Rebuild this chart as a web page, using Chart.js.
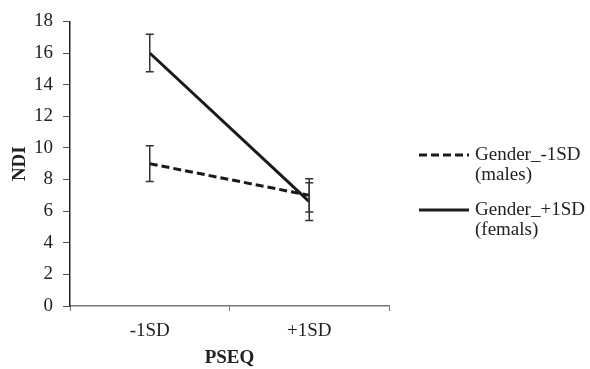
<!DOCTYPE html>
<html>
<head>
<meta charset="utf-8">
<script src="https://cdn.jsdelivr.net/npm/chart.js@4"></script>
<style>
  html, body { margin: 0; padding: 0; background: #fff; }
  #wrap { width: 590px; height: 369px; position: relative; }
</style>
</head>
<body>
<div id="wrap"><canvas id="ndiChart"></canvas></div>
<script>
// chart values
const categories = ['-1SD', '+1SD'];
const malesNDI = [9.0, 7.0];
const femalesNDI = [16.0, 6.6];
const malesErr = [1.13, 1.05];
const femalesErr = [1.18, 1.2];
const seriesLabels = [['Gender_-1SD', '(males)'], ['Gender_+1SD', '(femals)']];

const serif = '"Liberation Serif", "Times New Roman", serif';

// draw error bars for every point of every dataset
const errorBars = {
    id: 'errorBars',
    afterDatasetsDraw(chart) {
        const ctx = chart.ctx;
        const yScale = chart.scales.y;
        chart.data.datasets.forEach((ds, di) => {
            const meta = chart.getDatasetMeta(di);
            meta.data.forEach((pt, i) => {
                const v = ds.data[i];
                const e = ds.errors[i];
                const yTop = yScale.getPixelForValue(v + e);
                const yBot = yScale.getPixelForValue(v - e);
                ctx.save();
                ctx.strokeStyle = '#333';
                ctx.lineWidth = 1.5;
                ctx.beginPath();
                ctx.moveTo(pt.x, yTop);
                ctx.lineTo(pt.x, yBot);
                ctx.moveTo(pt.x - 4, yTop);
                ctx.lineTo(pt.x + 4, yTop);
                ctx.moveTo(pt.x - 4, yBot);
                ctx.lineTo(pt.x + 4, yBot);
                ctx.stroke();
                ctx.restore();
            });
        });
    }
};

// legend on the right with two-line labels
const sideLegend = {
    id: 'sideLegend',
    afterDraw(chart) {
        const ctx = chart.ctx;
        const rows = [155, 210];
        ctx.save();
        ctx.font = '19px ' + serif;
        ctx.fillStyle = '#222';
        ctx.textBaseline = 'middle';
        chart.data.datasets.forEach((ds, di) => {
            const y = rows[di];
            ctx.strokeStyle = ds.borderColor;
            ctx.lineWidth = ds.borderWidth;
            ctx.setLineDash(ds.borderDash || []);
            ctx.beginPath();
            ctx.moveTo(419, y);
            ctx.lineTo(469, y);
            ctx.stroke();
            ctx.setLineDash([]);
            seriesLabels[di].forEach((t, li) => {
                ctx.fillText(t, 475, y + li * 20);
            });
        });
        ctx.restore();
    }
};

const ctx = document.getElementById('ndiChart').getContext('2d');
const chart = new Chart(ctx, {
    type: 'line',
    data: {
        labels: categories,
        datasets: [
            {
                label: 'Gender_-1SD (males)',
                data: malesNDI,
                errors: malesErr,
                borderColor: '#1a1a1a',
                borderWidth: 3,
                borderDash: [8, 4],
                pointRadius: 0,
                fill: false
            },
            {
                label: 'Gender_+1SD (femals)',
                data: femalesNDI,
                errors: femalesErr,
                borderColor: '#1a1a1a',
                borderWidth: 3,
                pointRadius: 0,
                fill: false
            }
        ]
    },
    options: {
        responsive: true,
        maintainAspectRatio: false,
        animation: false,
        layout: { padding: { top: 14, right: 201, left: 0, bottom: 0 } },
        plugins: {
            legend: { display: false },
            tooltip: { enabled: false }
        },
        scales: {
            x: {
                offset: true,
                afterFit: (s) => { s.height = 63; },
                grid: { drawOnChartArea: false, drawTicks: true, tickLength: 5, color: '#777', offset: true },
                border: { color: '#777', width: 1.5 },
                ticks: { color: '#222', font: { family: serif, size: 19 }, padding: 9 },
                title: { display: true, text: 'PSEQ', color: '#222', font: { family: serif, size: 19, weight: 'bold' }, padding: { top: 2, bottom: 0 } }
            },
            y: {
                min: 0,
                max: 18,
                afterFit: (s) => { s.width = 70; },
                grid: { drawOnChartArea: false, drawTicks: true, tickLength: 7, color: '#555' },
                border: { color: '#222', width: 1.5 },
                ticks: { stepSize: 2, color: '#222', font: { family: serif, size: 19 }, padding: 10 },
                title: { display: true, text: 'NDI', color: '#222', font: { family: serif, size: 19, weight: 'bold' }, padding: { top: 9, bottom: 0 } }
            }
        }
    },
    plugins: [errorBars, sideLegend]
});
</script>
</body>
</html>
